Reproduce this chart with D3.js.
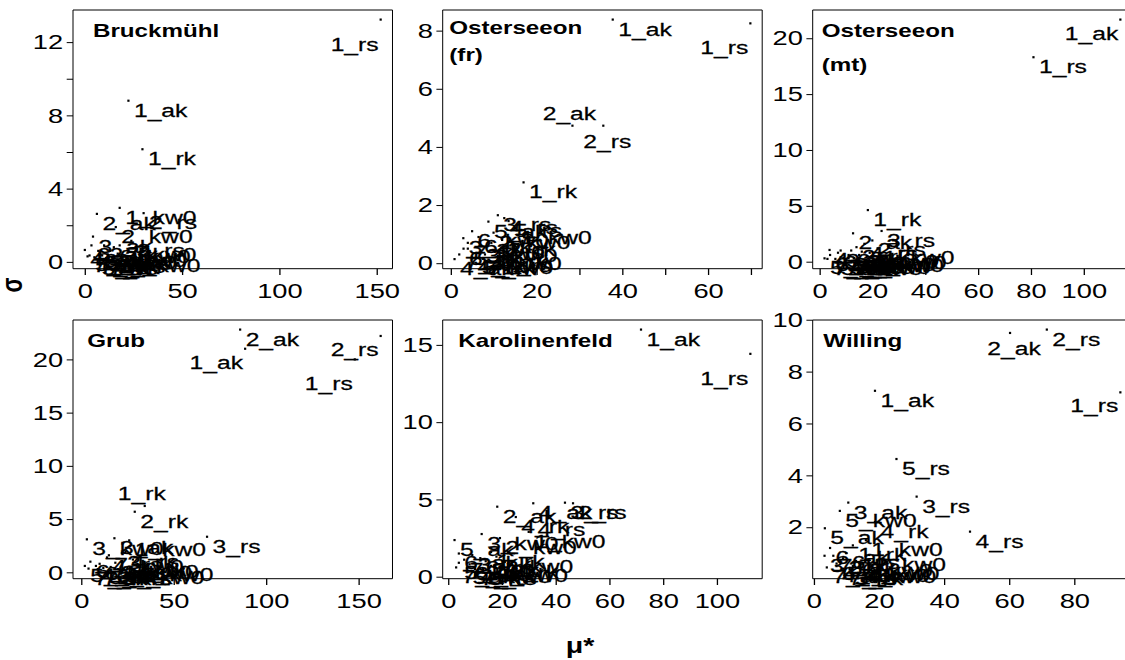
<!DOCTYPE html>
<html>
<head>
<meta charset="utf-8">
<script src="https://cdn.jsdelivr.net/npm/d3@7"></script>
<style>
  html, body { margin: 0; padding: 0; background: #fff; }
  svg { display: block; }
  text { font-family: "Liberation Sans", Arial, sans-serif; fill: #000; }
</style>
</head>
<body>
<svg id="chart"></svg>
<script>
// Morris screening results: mu* (mean absolute elementary effect) vs sigma per site.
const paramIds = [
  "1_ak", "1_rk", "1_rs", "1_kw0",
  "2_ak", "2_rk", "2_rs", "2_kw0",
  "3_ak", "3_rk", "3_rs", "3_kw0",
  "4_ak", "4_rk", "4_rs", "4_kw0",
  "5_ak", "5_rk", "5_rs", "5_kw0",
  "6_ak", "6_rk", "6_rs", "6_kw0",
  "7_ak", "7_rk", "7_rs", "7_kw0"
];

const siteTitles = [["Bruckmühl"], ["Osterseeon", "(fr)"], ["Osterseeon", "(mt)"],
                    ["Grub"], ["Karolinenfeld"], ["Willing"]];

// mu* per parameter (same order as paramIds)
const muBruckmuehl    = [22.5, 29.7, 152.1, 18.0,  6.3, 10.0, 30.3, 16.0,  4.3,  9.0, 24.0, 13.0,  0.1, 11.0, 17.0, 20.0,  2.5,  6.0, 14.0,  8.0,  3.5,  7.0, 12.0, 15.0,  1.5,  5.0, 10.0, 18.0];
const muOsterseeonFr  = [37.8, 17.0,  69.9, 15.0, 28.4, 12.0, 35.6, 10.0,  2.95, 10.3, 11.0,  7.0,  0.9,  5.0, 12.5,  8.0,  8.8,  4.0, 13.5,  6.0,  3.0,  6.5,  9.5,  5.0,  2.0,  7.5, 11.0,  4.0];
const muOsterseeonMt  = [113.9, 18.3, 81.0, 22.0, 12.7, 14.0, 20.0, 16.0,  8.0, 11.0, 23.5, 18.0,  3.8,  9.0, 17.0, 13.0,  1.9,  6.0, 15.0, 10.0,  4.0,  7.0, 12.0, 15.0,  3.0,  8.0, 11.0, 19.0];
const muGrub          = [88.7, 34.4, 148.0, 26.0, 86.0, 29.0, 162.0, 18.5, 18.0, 22.0, 68.1,  3.1,  8.0, 28.0, 24.0, 14.0,  2.0, 12.0, 20.0, 30.0,  5.0, 10.0, 16.0, 22.0,  4.0,  9.0, 15.0, 25.0];
const muKarolinenfeld = [71.8, 16.0, 112.5, 30.0, 18.3, 14.0, 46.5, 19.3,  9.0, 21.1, 43.5, 12.5, 31.7, 25.2, 31.2, 10.0,  2.4,  7.0, 13.0,  4.0,  4.0,  8.0, 12.0, 16.0,  3.0,  6.0, 10.0, 18.0];
const muWilling       = [18.8, 12.0,  94.2, 16.0, 60.3,  9.0, 71.6, 17.0, 10.6,  3.3, 31.6, 15.0,  7.0, 18.8, 48.0, 14.0,  3.4, 11.0, 25.4,  8.0,  5.0,  7.0, 10.0, 13.0,  4.0,  6.0,  9.0, 12.0];

// sigma per parameter (same order as paramIds)
const sigmaBruckmuehl    = [8.80, 6.15, 13.23, 2.95, 2.62, 0.90, 2.66, 1.90, 1.38, 0.35, 1.15, 0.60, 0.65, 0.20, 0.45, 0.30, 0.35, 0.15, 0.25, 0.50, 0.90, 0.60, 0.40, 0.80, 0.30, 0.25, 0.15, 0.90];
const sigmaOsterseeonFr  = [8.38, 2.78,  8.25, 1.20, 4.73, 0.80, 4.73, 1.05, 0.86, 0.39, 1.65, 0.60, 0.14, 0.20, 1.55, 0.30, 1.43, 0.50, 1.45, 0.18, 0.50, 0.90, 0.70, 1.10, 0.30, 0.15, 0.25, 0.70];
const sigmaOsterseeonMt  = [21.67, 4.62, 18.3, 1.20, 2.54, 1.30, 1.90, 0.90, 1.00, 0.60, 2.75, 0.50, 1.05, 0.35, 1.60, 0.30, 0.30, 0.25, 0.35, 0.23, 0.60, 0.80, 1.00, 0.60, 0.25, 0.40, 0.30, 0.80];
const sigmaGrub          = [21.0, 6.23, 20.0, 3.00, 22.8, 5.69, 22.2, 0.90, 3.20, 1.80, 3.34, 3.10, 0.60, 1.20, 1.90, 1.40, 0.60, 0.40, 0.30, 0.70, 1.00, 0.80, 0.50, 1.00, 0.35, 0.30, 1.60, 0.40];
const sigmaKarolinenfeld = [15.99, 1.60, 14.42, 2.90, 4.53, 1.00, 4.75, 2.50, 1.40, 0.95, 4.79, 2.76, 4.75, 3.86, 3.67, 0.60, 2.37, 0.55, 0.49, 0.90, 1.50, 0.80, 1.20, 0.70, 0.60, 1.10, 0.50, 1.30];
const sigmaWilling       = [7.26, 1.30, 7.20, 1.50, 9.49, 0.80, 9.62, 0.93, 2.95, 0.90, 3.18, 0.60, 0.50, 2.20, 1.83, 0.45, 1.96, 0.385, 4.63, 2.63, 1.20, 0.60, 1.00, 0.70, 0.45, 0.90, 0.40, 0.50];

// Axis ticks and their labels (empty string = unlabeled tick)
const xTicksBruckmuehl = [0, 50, 100, 150];           const xLabelsBruckmuehl = ["0", "50", "100", "150"];
const yTicksBruckmuehl = [0, 2, 4, 6, 8, 10, 12];     const yLabelsBruckmuehl = ["0", "", "4", "", "8", "", "12"];
const xTicksFr = [0, 10, 20, 30, 40, 50, 60, 70];     const xLabelsFr = ["0", "", "20", "", "40", "", "60", ""];
const yTicksFr = [0, 2, 4, 6, 8];                     const yLabelsFr = ["0", "2", "4", "6", "8"];
const xTicksMt = [0, 20, 40, 60, 80, 100];            const xLabelsMt = ["0", "20", "40", "60", "80", "100"];
const yTicksMt = [0, 5, 10, 15, 20];                  const yLabelsMt = ["0", "5", "10", "15", "20"];
const xTicksGrub = [0, 50, 100, 150];                 const xLabelsGrub = ["0", "50", "100", "150"];
const yTicksGrub = [0, 5, 10, 15, 20];                const yLabelsGrub = ["0", "5", "10", "15", "20"];
const xTicksKaro = [0, 20, 40, 60, 80, 100];          const xLabelsKaro = ["0", "20", "40", "60", "80", "100"];
const yTicksKaro = [0, 5, 10, 15];                    const yLabelsKaro = ["0", "5", "10", "15"];
const xTicksWilling = [0, 20, 40, 60, 80];            const xLabelsWilling = ["0", "20", "40", "60", "80"];
const yTicksWilling = [2, 4, 6, 8, 10];               const yLabelsWilling = ["2", "4", "6", "8", "10"];

// Label placement around a point (default "se": right of and below the point)
const labelSide = [
  { "1_rs": "sw" },
  { "1_rs": "sw", "2_ak": "n", "2_rs": "s" },
  { "1_ak": "w" },
  { "1_ak": "w", "1_rs": "sw", "2_rs": "w", "1_rk": "n" },
  { "1_rs": "sw" },
  { "1_rs": "w", "2_ak": "s" }
];

// ---- figure layout (screen pixels) ----
const S = 1.3;                       // horizontal stretch of the whole figure
const W = 1125, H = 660;
const colLeft = [73, 442.7, 812.7], rowTop = [10, 320];
const plotW = 319.5, plotH = 258.7;
const titleLayout = [
  { dx: 20,   base: 26.7, lead: 0 },
  { dx: 6.6,  base: 24.0, lead: 26.7 },
  { dx: 9.0,  base: 27.3, lead: 33.4 },
  { dx: 14.3, base: 26.7, lead: 0 },
  { dx: 15.6, base: 26.7, lead: 0 },
  { dx: 10.6, base: 26.7, lead: 0 }
];
const sideOffset = {
  se: { dx: 5.5,  dy: 16,  anchor: "start" },
  sw: { dx: -2,   dy: 31,  anchor: "end" },
  w:  { dx: -2,   dy: 20,  anchor: "end" },
  n:  { dx: -3,   dy: -6,  anchor: "middle" },
  s:  { dx: 4,    dy: 22,  anchor: "middle" }
};

const panels = [
  { mu: muBruckmuehl,    sigma: sigmaBruckmuehl,    xt: xTicksBruckmuehl, xl: xLabelsBruckmuehl, yt: yTicksBruckmuehl, yl: yLabelsBruckmuehl },
  { mu: muOsterseeonFr,  sigma: sigmaOsterseeonFr,  xt: xTicksFr,   xl: xLabelsFr,   yt: yTicksFr,   yl: yLabelsFr },
  { mu: muOsterseeonMt,  sigma: sigmaOsterseeonMt,  xt: xTicksMt,   xl: xLabelsMt,   yt: yTicksMt,   yl: yLabelsMt },
  { mu: muGrub,          sigma: sigmaGrub,          xt: xTicksGrub, xl: xLabelsGrub, yt: yTicksGrub, yl: yLabelsGrub },
  { mu: muKarolinenfeld, sigma: sigmaKarolinenfeld, xt: xTicksKaro, xl: xLabelsKaro, yt: yTicksKaro, yl: yLabelsKaro },
  { mu: muWilling,       sigma: sigmaWilling,       xt: xTicksWilling, xl: xLabelsWilling, yt: yTicksWilling, yl: yLabelsWilling }
];

const svg = d3.select("#chart")
  .attr("width", W).attr("height", H)
  .attr("viewBox", `0 0 ${W / S} ${H}`)
  .attr("preserveAspectRatio", "none");

const tickLen = 6.3, tickFont = 21, labelFont = 19, titleFont = 18.6;

panels.forEach((p, i) => {
  const left = colLeft[i % 3] / S, right = (colLeft[i % 3] + plotW) / S;
  const top = rowTop[Math.floor(i / 3)], bottom = top + plotH;

  // R-style axis extents: data range padded by 4% on each side
  const xe = d3.extent(p.mu), ye = d3.extent(p.sigma);
  const xp = (xe[1] - xe[0]) * 0.04, yp = (ye[1] - ye[0]) * 0.04;
  const x = d3.scaleLinear().domain([xe[0] - xp, xe[1] + xp]).range([left, right]);
  const y = d3.scaleLinear().domain([ye[0] - yp, ye[1] + yp]).range([bottom, top]);

  const g = svg.append("g");

  // x axis
  const gx = g.append("g").attr("transform", `translate(0,${bottom})`)
    .call(d3.axisBottom(x).tickValues(p.xt).tickFormat((d, k) => p.xl[k])
      .tickSize(tickLen).tickPadding(8.3));
  gx.select(".domain").remove();
  gx.selectAll("line").attr("stroke", "#000").attr("stroke-width", 1);
  gx.selectAll("text").attr("font-size", tickFont).attr("font-family", null).attr("fill", "#000");

  // y axis
  const gy = g.append("g").attr("transform", `translate(${left},0)`)
    .call(d3.axisLeft(y).tickValues(p.yt).tickFormat((d, k) => p.yl[k])
      .tickSize(tickLen / S).tickPadding(3.5 / S));
  gy.select(".domain").remove();
  gy.selectAll("line").attr("stroke", "#000").attr("stroke-width", 1);
  gy.selectAll("text").attr("font-size", tickFont).attr("font-family", null).attr("fill", "#000");

  // frame
  g.append("rect")
    .attr("x", left).attr("y", top)
    .attr("width", right - left).attr("height", bottom - top)
    .attr("fill", "none").attr("stroke", "#000").attr("stroke-width", 1)
    .attr("vector-effect", "non-scaling-stroke");

  // points
  const pts = paramIds.map((id, k) => ({ id, mu: p.mu[k], sigma: p.sigma[k] }));
  g.selectAll("rect.pt").data(pts).enter().append("rect")
    .attr("class", "pt")
    .attr("x", d => x(d.mu) - 1.1 / S).attr("y", d => y(d.sigma) - 1.1)
    .attr("width", 2.2 / S).attr("height", 2.2)
    .attr("fill", "#000");

  // point labels
  g.selectAll("text.lab").data(pts).enter().append("text")
    .attr("class", "lab")
    .each(function (d) {
      const o = sideOffset[labelSide[i][d.id] || "se"];
      d3.select(this)
        .attr("x", x(d.mu) + o.dx / S)
        .attr("y", y(d.sigma) + o.dy)
        .attr("text-anchor", o.anchor);
    })
    .attr("font-size", labelFont)
    .attr("stroke", "#000").attr("stroke-width", 0.25)
    .text(d => d.id);

  // site title
  const tl = titleLayout[i];
  siteTitles[i].forEach((line, k) => {
    g.append("text")
      .attr("x", left + tl.dx / S)
      .attr("y", top + tl.base + k * tl.lead)
      .attr("font-size", titleFont)
      .attr("font-weight", "bold")
      .text(line);
  });
});

// shared axis titles
svg.append("text")
  .attr("transform", `translate(${22 / S},285) rotate(-90)`)
  .attr("text-anchor", "middle")
  .attr("font-size", 22).attr("font-weight", "bold")
  .text("σ");
svg.append("text")
  .attr("x", 580 / S).attr("y", 653)
  .attr("text-anchor", "middle")
  .attr("font-size", 22).attr("font-weight", "bold")
  .text("μ*");
</script>
</body>
</html>
